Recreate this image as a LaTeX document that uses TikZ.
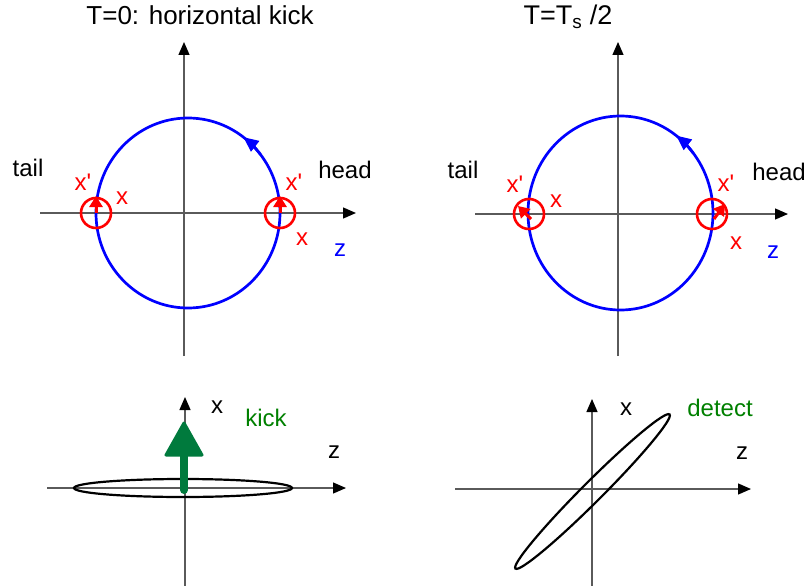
\documentclass[tikz,border=0pt]{standalone}
\usepackage{fontspec}
\setmainfont{Liberation Sans}
\usetikzlibrary{arrows.meta}
\definecolor{axisgray}{RGB}{90,90,90}
\definecolor{kickgreen}{RGB}{0,122,61}
\definecolor{txtgreen}{RGB}{0,128,0}
\begin{document}
\begin{tikzpicture}[x=1pt,y=-1pt,
  lbl/.style={inner sep=0pt,font=\fontsize{24}{28}\selectfont},
  ttl/.style={inner sep=0pt,font=\fontsize{26}{30}\selectfont},
  axis/.style={axisgray,line width=1.3pt,-{Triangle[length=13pt,width=11pt,color=black]}},
  orbit/.style={blue,line width=2.7pt},
  orbitarrow/.style={blue,line width=2.7pt,-{Triangle[length=15pt,width=13pt]}},
  smallc/.style={red,line width=2.6pt},
  redarrow/.style={red,line width=3pt,-{Triangle[length=11pt,width=13pt]}},
  beam/.style={black,line width=2.2pt}]
\useasboundingbox (0,0) rectangle (806,586);
% ---------- top left ----------
\coordinate (AxL) at (40,213);
\coordinate (AxR) at (356,213);
\coordinate (AyB) at (184,356);
\coordinate (AyT) at (184,42);
\draw[axis] (AxL) -- (AxR);
\draw[axis] (AyB) -- (AyT);
\coordinate (AC) at (188,213);
\draw[orbit] (AC) ellipse [x radius=92, y radius=95];
\draw[orbitarrow] (AC) ++(-38:92 and 95) arc[start angle=-38, end angle=-53, x radius=92, y radius=95];
\coordinate (AS1) at (96,213);
\coordinate (AS2) at (280,213);
\draw[smallc] (AS1) circle[radius=15];
\draw[smallc] (AS2) circle[radius=15];
\coordinate (AS1t) at (96,196);
\coordinate (AS2t) at (280,196);
\draw[redarrow] (AS1) -- (AS1t);
\draw[redarrow] (AS2) -- (AS2t);
\node[ttl] (t1) at (200,15) {T=0: horizontal kick};
\node[lbl] (tailA) at (28,168) {tail};
\node[lbl] (headA) at (345,170) {head};
\node[lbl,red] (xpA1) at (83,182) {x\textquotesingle};
\node[lbl,red] (xA1) at (122,198) {x};
\node[lbl,red] (xpA2) at (294,182) {x\textquotesingle};
\node[lbl,red] (xA2) at (302,239) {x};
\node[lbl,blue] (zA) at (340,250) {z};
% ---------- top right ----------
\coordinate (BxL) at (475,214);
\coordinate (BxR) at (788,214);
\coordinate (ByB) at (618,356);
\coordinate (ByT) at (618,42);
\draw[axis] (BxL) -- (BxR);
\draw[axis] (ByB) -- (ByT);
\coordinate (BC) at (620.5,213);
\draw[orbit] (BC) ellipse [x radius=92.5, y radius=97];
\draw[orbitarrow] (BC) ++(-38:92.5 and 97) arc[start angle=-38, end angle=-53, x radius=92.5, y radius=97];
\coordinate (BS1) at (529,214);
\coordinate (BS2) at (712,214);
\draw[smallc] (BS1) circle[radius=15];
\draw[smallc] (BS2) circle[radius=15];
\coordinate (BS1a) at (531,219);
\coordinate (BS1t) at (518,206);
\coordinate (BS2a) at (714,219);
\coordinate (BS2t) at (725,204);
\draw[redarrow] (BS1a) -- (BS1t);
\draw[redarrow] (BS2a) -- (BS2t);
\node[ttl,font=\fontsize{27}{31}\selectfont] (t2) at (568,17) {T=T\textsubscript{s} /2};
\node[lbl] (tailB) at (463,170) {tail};
\node[lbl] (headB) at (779,172) {head};
\node[lbl,red] (xpB1) at (515,184) {x\textquotesingle};
\node[lbl,red] (xB1) at (556,201) {x};
\node[lbl,red] (xpB2) at (726,183) {x\textquotesingle};
\node[lbl,red] (xB2) at (736,243) {x};
\node[lbl,blue] (zB) at (773,252) {z};
% ---------- bottom left ----------
\coordinate (CxL) at (47,488);
\coordinate (CxR) at (346,488);
\coordinate (CyB) at (185,586);
\coordinate (CyT) at (185,397);
\draw[axis] (CxL) -- (CxR);
\draw[axis] (CyB) -- (CyT);
\coordinate (CE) at (183,488);
\draw[beam] (CE) ellipse [x radius=109, y radius=9];
\coordinate (K0) at (184,490);
\coordinate (K1) at (184,455);
\draw[kickgreen,line width=8pt,line cap=round] (K0) -- (K1);
\fill[kickgreen,draw=kickgreen,line width=3pt,line join=round] (166,455) -- (202,455) -- (184,423) -- cycle;
\node[lbl] (xC) at (217,407) {x};
\node[lbl,txtgreen] (kick) at (266,418) {kick};
\node[lbl] (zC) at (334,452) {z};
% ---------- bottom right ----------
\coordinate (DxL) at (455,489);
\coordinate (DxR) at (751,489);
\coordinate (DyB) at (592,586);
\coordinate (DyT) at (592,399);
\draw[axis] (DxL) -- (DxR);
\draw[axis] (DyB) -- (DyT);
\coordinate (DE) at (592.5,491.5);
\draw[beam] (DE) ellipse [x radius=109, y radius=10, rotate=45];
\node[lbl] (xD) at (626,409) {x};
\node[lbl,txtgreen] (detect) at (720,408) {detect};
\node[lbl] (zD) at (742,453) {z};
\end{tikzpicture}
\end{document}
